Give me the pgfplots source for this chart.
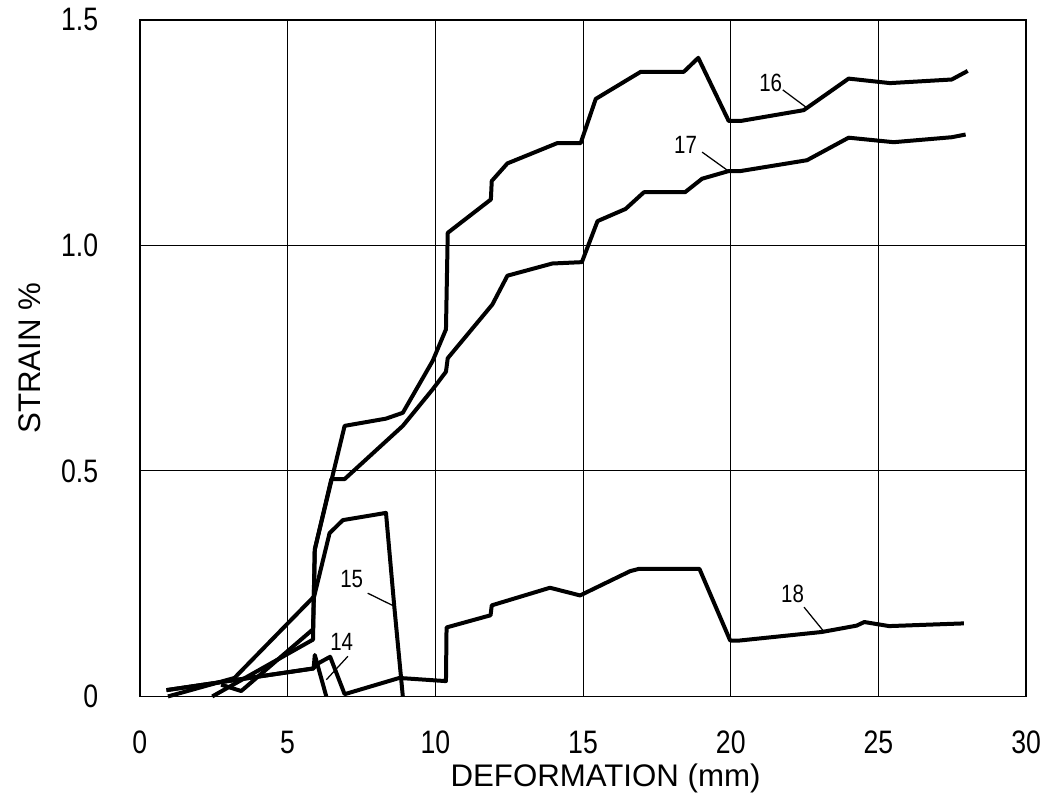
\documentclass[border=0pt]{standalone}
\usepackage{fontspec}
\setmainfont{Liberation Sans}
\newfontfamily\tickfont[FakeStretch=0.82]{Liberation Sans}
\usepackage{pgfplots}
\pgfplotsset{compat=1.18}
\begin{document}
\begin{tikzpicture}
\begin{axis}[
  width=354.8pt, height=270.8pt, scale only axis,
  xmin=0, xmax=30, ymin=0, ymax=1.5,
  xtick={0,5,10,15,20,25,30},
  ytick={0,0.5,1,1.5},
  yticklabels={0,0.5,1.0,1.5},
  major tick length=0pt,
  grid=major,
  major grid style={black, line width=0.4pt},
  axis line style={black, line width=0.7pt},
  /pgf/number format/assume math mode=true,
  tick label style={font=\tickfont\fontsize{13}{14}\selectfont, inner sep=0pt},
  xticklabel style={yshift=-13.5pt},
  yticklabel style={xshift=-16.5pt},
  xlabel={DEFORMATION (mm)},
  ylabel={STRAIN \%},
  label style={font=\fontsize{12.5}{14}\selectfont},
  xlabel style={at={([xshift=9pt,yshift=-33pt]axis description cs:0.5,0)}, anchor=center, inner sep=1pt},
  ylabel style={at={([xshift=-44pt]axis description cs:0,0.5)}, anchor=center, inner sep=1pt},
  clip=false,
]
% curve 14
\addplot[black, line width=1.6pt, line join=round] coordinates {
(0.9,0.014)(5.88,0.062)(5.92,0.092)(6.31,0.0)};
% curve 15
\addplot[black, line width=1.6pt, line join=round] coordinates {
(0.95,0.0)(3.2,0.041)(5.9,0.222)(6.42,0.362)(6.87,0.391)(8.33,0.407)(8.61,0.2)(8.9,0.0)};
% curve 16
\addplot[black, line width=1.6pt, line join=round] coordinates {
(2.45,0)(5.86,0.126)(5.92,0.326)(6.93,0.6)(8.33,0.616)(8.9,0.629)(9.91,0.744)(10.36,0.814)
(10.42,1.028)(11.88,1.102)(11.91,1.143)(12.44,1.182)(14.13,1.227)(14.92,1.227)(15.43,1.325)
(16.95,1.385)(18.41,1.385)(18.9,1.416)(19.93,1.276)(20.33,1.276)(22.47,1.30)(23.99,1.37)
(25.39,1.36)(27.48,1.368)(28.02,1.387)};
% curve 17
\addplot[black, line width=1.6pt, line join=round] coordinates {
(2.75,0.026)(3.43,0.012)(5.86,0.149)(5.92,0.326)(6.48,0.482)(6.93,0.482)(8.9,0.6)(9.91,0.681)
(10.36,0.72)(10.42,0.75)(11.93,0.869)(12.44,0.933)(13.96,0.96)(14.96,0.963)(15.49,1.054)
(16.44,1.081)(17.06,1.118)(18.45,1.118)(19.03,1.148)(19.93,1.165)(20.33,1.165)(22.58,1.189)
(23.99,1.239)(25.51,1.229)(27.48,1.24)(27.95,1.246)};
% curve 18
\addplot[black, line width=1.6pt, line join=round] coordinates {
(0.9,0.014)(5.86,0.062)(6.08,0.075)(6.44,0.088)(6.93,0.005)(8.78,0.041)(10.36,0.034)
(10.38,0.153)(11.87,0.18)(11.91,0.202)(13.88,0.241)(14.9,0.224)(16.6,0.278)(16.9,0.283)
(18.94,0.283)(19.98,0.124)(20.3,0.124)(23.09,0.143)(24.26,0.157)(24.52,0.165)(25.36,0.156)
(27.89,0.162)};
% labels
\begin{scope}[every node/.style={font=\tickfont\fontsize{10}{11}\selectfont, inner sep=0pt}]
\node at (axis cs:21.35,1.361) {16};
\draw[line width=0.5pt] (axis cs:21.76,1.345) -- (axis cs:22.58,1.305);
\node at (axis cs:18.47,1.224) {17};
\draw[line width=0.5pt] (axis cs:19.03,1.207) -- (axis cs:19.88,1.167);
\node at (axis cs:7.17,0.26) {15};
\draw[line width=0.5pt] (axis cs:7.71,0.229) -- (axis cs:8.61,0.2);
\node at (axis cs:6.83,0.122) {14};
\draw[line width=0.5pt] (axis cs:7.04,0.089) -- (axis cs:6.31,0.037);
\node at (axis cs:22.09,0.228) {18};
\draw[line width=0.5pt] (axis cs:22.48,0.198) -- (axis cs:23.15,0.144);
\end{scope}
% page extent
\path (rel axis cs:0,0) -- ++(-56pt,0);
\path (rel axis cs:0,1) -- ++(0,8pt);
\path (rel axis cs:1,0) -- ++(5.6pt,0);
\path (rel axis cs:0,0) -- ++(0,-39.6pt);
\end{axis}
\end{tikzpicture}
\end{document}
